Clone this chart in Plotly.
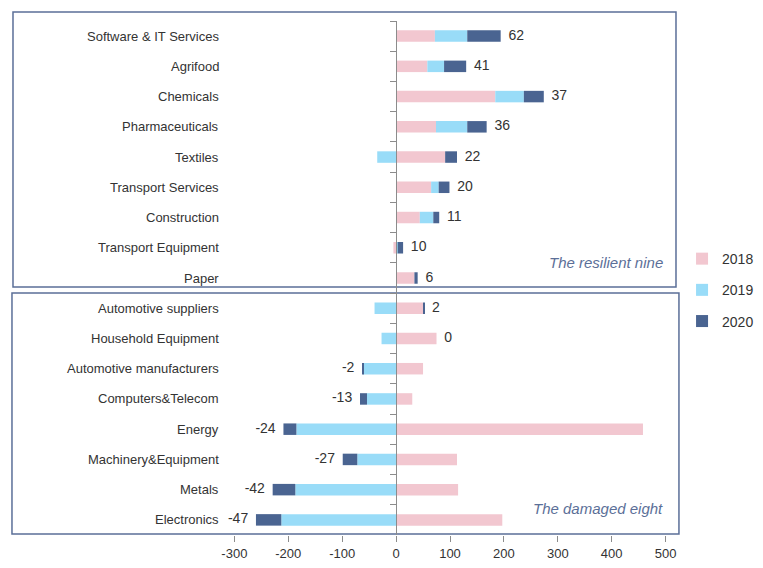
import plotly.graph_objects as go

categories = ["Software & IT Services", "Agrifood", "Chemicals", "Pharmaceuticals", "Textiles",
              "Transport Services", "Construction", "Transport Equipment", "Paper",
              "Automotive suppliers", "Household Equipment", "Automotive manufacturers",
              "Computers&Telecom", "Energy", "Machinery&Equipment", "Metals", "Electronics"]
v2018 = [72, 58, 184, 74, 91, 65, 44, -5, 34, 50, 75, 50, 30, 458, 113, 115, 197]
v2019 = [60, 31, 53, 58, -35, 14, 25, 3, 0, -40, -27, -61, -54, -185, -72, -187, -213]
v2020 = [62, 41, 37, 36, 22, 20, 11, 10, 6, 2, 0, -2, -13, -24, -27, -42, -47]
x_ticks = [-300, -200, -100, 0, 100, 200, 300, 400, 500]
x_ticktext = ["-300", "-200", "-100", "0", "100", "200", "300", "400", "500"]

C18, C19, C20 = "#f2c7d0", "#99dcf8", "#4a6491"
BOX = "#5b6f98"
FONT = "Liberation Sans"
TXT = "#333333"

fig = go.Figure()
for name, vals, col in [("2018", v2018, C18), ("2019", v2019, C19), ("2020", v2020, C20)]:
    fig.add_trace(go.Bar(y=categories, x=vals, orientation="h", name=name,
                         marker=dict(color=col, line=dict(width=0)),
                         legendgroup=name))

# label positions derived from the stacked ends
pos_x, pos_y, pos_t, neg_x, neg_y, neg_t = [], [], [], [], [], []
for c, a, b, d in zip(categories, v2018, v2019, v2020):
    psum = sum(v for v in (a, b, d) if v > 0)
    nsum = sum(v for v in (a, b, d) if v < 0)
    if d >= 0:
        pos_x.append(psum); pos_y.append(c); pos_t.append(f"  {d}")
    else:
        neg_x.append(nsum); neg_y.append(c); neg_t.append(f"{d}  ")

fig.add_trace(go.Scatter(x=pos_x, y=pos_y, text=pos_t, mode="text", textposition="middle right",
                         textfont=dict(size=14, color=TXT, family=FONT),
                         showlegend=False, cliponaxis=False, hoverinfo="skip"))
fig.add_trace(go.Scatter(x=neg_x, y=neg_y, text=neg_t, mode="text", textposition="middle left",
                         textfont=dict(size=14, color=TXT, family=FONT),
                         showlegend=False, cliponaxis=False, hoverinfo="skip"))

xr = [-310, 510]
zero_pos = (0 - xr[0]) / (xr[1] - xr[0])

annotations = []
for c in categories:
    annotations.append(dict(x=-0.019, xref="paper", y=c, yref="y", text=c, showarrow=False,
                            xanchor="right", font=dict(size=13, color=TXT, family=FONT)))
annotations.append(dict(x=0.986, xref="paper", y=0.531, yref="paper", text="The resilient nine",
                        showarrow=False, xanchor="right", yanchor="middle",
                        font=dict(size=15, color=BOX, family=FONT, style="italic")))
annotations.append(dict(x=0.986, xref="paper", y=0.0525, yref="paper", text="The damaged eight",
                        showarrow=False, xanchor="right", yanchor="middle",
                        font=dict(size=15, color=BOX, family=FONT, style="italic")))

shapes = [
    dict(type="rect", xref="paper", yref="paper", x0=-0.4887, x1=1.0113, y0=0.4825, y1=1.0175,
         line=dict(color=BOX, width=1.5), layer="below"),
    dict(type="rect", xref="paper", yref="paper", x0=-0.491, x1=1.018, y0=0.0019, y1=0.4708,
         line=dict(color=BOX, width=1.5), layer="below"),
]

fig.update_layout(
    width=755, height=560,
    margin=dict(l=221, r=92, t=13, b=33, autoexpand=False),
    barmode="relative", bargap=0.62,
    plot_bgcolor="white", paper_bgcolor="white",
    font=dict(family=FONT, size=13, color=TXT),
    xaxis=dict(range=xr, tickvals=x_ticks, ticktext=x_ticktext, ticks="outside", ticklen=6,
               tickcolor="#8c8c8c", showgrid=False, zeroline=False, showline=False,
               automargin=False, tickfont=dict(size=13, color=TXT)),
    yaxis=dict(categoryorder="array", categoryarray=categories, range=[16.5, -0.5],
               anchor="free", position=zero_pos, showline=True, linecolor="#8c8c8c", linewidth=1,
               ticks="outside", tickson="boundaries", ticklen=6, tickcolor="#8c8c8c",
               showticklabels=False, showgrid=False, zeroline=False, automargin=False),
    legend=dict(x=1.025, y=0.568, xanchor="left", yanchor="top", tracegroupgap=10,
                font=dict(size=14, color=TXT, family=FONT), traceorder="grouped",
                bgcolor="rgba(0,0,0,0)"),
    annotations=annotations, shapes=shapes,
)

fig.write_html("out.html")
